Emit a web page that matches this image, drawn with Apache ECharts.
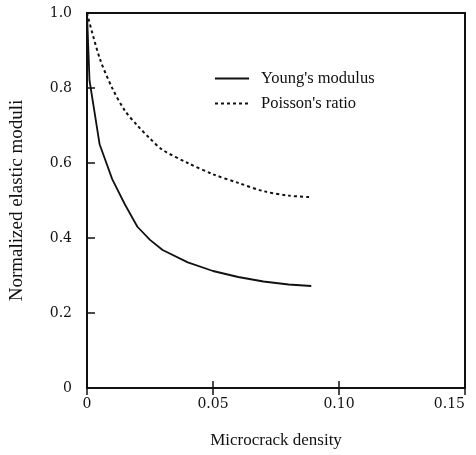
<!DOCTYPE html>
<html>
<head>
<meta charset="utf-8">
<script src="https://cdn.jsdelivr.net/npm/echarts@6/dist/echarts.min.js"></script>
<style>
  html, body { margin: 0; padding: 0; background: #fff; }
  #chart { width: 476px; height: 455px; }
</style>
</head>
<body>
<div id="chart"></div>
<script>
// microcrack density (x) and normalized moduli
const youngX = [0, 0.001, 0.005, 0.01, 0.015, 0.02, 0.025, 0.03, 0.04, 0.05, 0.06, 0.07, 0.08, 0.089]
const youngY = [1.0, 0.82, 0.65, 0.557, 0.49, 0.43, 0.395, 0.368, 0.335, 0.312, 0.296, 0.284, 0.276, 0.272]
const poissonX = [0, 0.005, 0.01, 0.015, 0.02, 0.025, 0.03, 0.04, 0.05, 0.06, 0.07, 0.08, 0.089]
const poissonY = [1.0, 0.88, 0.80, 0.74, 0.70, 0.665, 0.635, 0.60, 0.57, 0.547, 0.525, 0.513, 0.509]
const seriesNames = ["Young's modulus", "Poisson's ratio"]

const font = 'Liberation Serif'
const numFont = 'DejaVu Serif'
const ink = '#111'
const chart = echarts.init(document.getElementById('chart'))

const zip = (xs, ys) => xs.map((x, i) => [x, ys[i]])

const option = {
  animation: false,
  backgroundColor: '#fff',
  grid: {
    left: 87, right: 11, top: 13, bottom: 67,
    outerBoundsMode: 'none',
    show: true, borderColor: ink, borderWidth: 2
  },
  legend: {
    orient: 'vertical',
    left: 209,
    top: 65,
    itemWidth: 34,
    itemHeight: 10,
    itemGap: 8,
    itemStyle: { opacity: 0 },
    textStyle: { fontFamily: font, fontSize: 16.5, color: ink, lineHeight: 16, padding: [0, 0, 0, 7] },
    data: seriesNames
  },
  xAxis: [
    {
      type: 'value',
      min: 0,
      max: 0.15,
      interval: 0.05,
      name: 'Microcrack density',
      nameLocation: 'middle',
      nameGap: 44,
      nameTextStyle: { fontFamily: font, fontSize: 17, color: ink },
      axisLine: { show: true, lineStyle: { color: ink, width: 2 } },
      axisTick: { show: true, inside: true, length: 7, lineStyle: { color: ink, width: 1.5 } },
      axisLabel: {
        fontFamily: numFont, fontSize: 14, color: ink, margin: 9,
        alignMaxLabel: 'right',
        formatter: v => v === 0 ? '0' : v.toFixed(2)
      },
      splitLine: { show: false }
    },
    {
      type: 'value',
      position: 'top',
      min: 0,
      max: 0.15,
      interval: 0.05,
      axisLine: { show: true, lineStyle: { color: ink, width: 2 } },
      axisTick: { show: true, inside: true, length: 7, lineStyle: { color: ink, width: 1.5 } },
      axisLabel: { show: false },
      splitLine: { show: false }
    }
  ],
  yAxis: [
    {
      type: 'value',
      min: 0,
      max: 1,
      interval: 0.2,
      name: 'Normalized elastic moduli',
      nameLocation: 'middle',
      nameGap: 60,
      nameTextStyle: { fontFamily: font, fontSize: 19, color: ink },
      axisLine: { show: true, lineStyle: { color: ink, width: 2 } },
      axisTick: { show: true, inside: true, length: 8, lineStyle: { color: ink, width: 1.5 } },
      axisLabel: {
        fontFamily: numFont, fontSize: 14, color: ink, margin: 15,
        formatter: v => v === 0 ? '0' : v.toFixed(1)
      },
      splitLine: { show: false }
    },
    {
      type: 'value',
      position: 'right',
      min: 0,
      max: 1,
      interval: 0.2,
      axisLine: { show: true, lineStyle: { color: ink, width: 2 } },
      axisTick: { show: false },
      axisLabel: { show: false },
      splitLine: { show: false }
    }
  ],
  series: [
    {
      name: seriesNames[0],
      type: 'line',
      data: zip(youngX, youngY),
      symbol: 'none',
      lineStyle: { color: ink, width: 1.8 },
      itemStyle: { color: ink }
    },
    {
      name: seriesNames[1],
      type: 'line',
      data: zip(poissonX, poissonY),
      smooth: 0.3,
      symbol: 'none',
      lineStyle: { color: ink, width: 2, type: [3, 3] },
      itemStyle: { color: ink }
    },
    {
      // binds the mirror axes so their line and ticks get drawn
      name: 'frame',
      type: 'line',
      xAxisIndex: 1,
      yAxisIndex: 1,
      data: [[0, 0]],
      symbol: 'none',
      silent: true,
      lineStyle: { opacity: 0 }
    }
  ]
}

chart.setOption(option)
</script>
</body>
</html>
